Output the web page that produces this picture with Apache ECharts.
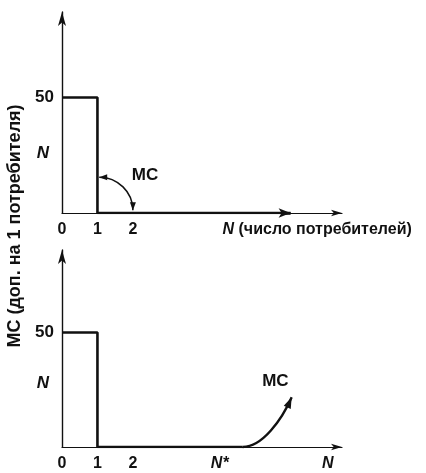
<!DOCTYPE html>
<html>
<head>
<meta charset="utf-8">
<script src="https://cdn.jsdelivr.net/npm/echarts@6/dist/echarts.min.js"></script>
<style>
  html, body { margin: 0; padding: 0; background: #fff; }
  #chart { width: 426px; height: 473px; }
</style>
</head>
<body>
<div id="chart"></div>
<script>
// Step curve of marginal cost per extra consumer: 50 for the first one, then zero
const stepX = [0, 1, 1];
const stepY = [50, 50, 0];

// Top panel: flat zero-cost stretch (ends in an arrow), and the annotation arc
const topFlatEnd = 6.45;
const topArcFrom = [1.05, 15.5];
const topArcTo = [2, 1.2];
const topMcLabel = [2.34, 16.4];
const topTickValues = [0, 1, 2, 7.2];
const topTickLabels = ['0', '1', '2', '{i|N} (число потребителей)'];

// Bottom panel: flat stretch up to the congestion point, then MC rising
const bottomFlatEnd = 5.1;
const bottomMcEnd = [6.48, 21.7];
const bottomMcLabel = [6.02, 28.7];
const bottomTickValues = [0, 1, 2, 4.45, 7.5];
const bottomTickLabels = ['0', '1', '2', '{i|N*}', '{i|N}'];

// y-axis marks shared by both panels
const yTickValuesTop = [26, 50];
const yTickValuesBottom = [28, 50];

const FONT = 'Liberation Sans';
const INK = '#111';

function pairs(xs, ys) { return xs.map((x, i) => [x, ys[i]]); }

function labelFrom(values, labels) {
  return function (v) {
    for (let i = 0; i < values.length; i++) {
      if (Math.abs(values[i] - v) < 1e-6) return labels[i];
    }
    return '';
  };
}

const richStyles = {
  i: { fontStyle: 'italic', fontWeight: 'bold', fontFamily: FONT, fontSize: 16, color: INK }
};

function xAxisFor(gridIndex, values, labels) {
  return {
    gridIndex: gridIndex, type: 'value', min: 0, max: 7.9,
    axisLine: { show: true, onZero: false, symbol: ['none', 'arrow'], symbolSize: [5, 11],
                lineStyle: { color: INK, width: 1.2 } },
    axisTick: { show: false }, splitLine: { show: false },
    axisLabel: {
      customValues: values, formatter: labelFrom(values, labels),
      margin: 9, color: INK, fontFamily: FONT, fontWeight: 'bold', fontSize: 16,
      rich: richStyles
    }
  };
}

function yAxisFor(gridIndex, max, values) {
  return {
    gridIndex: gridIndex, type: 'value', min: 0, max: max,
    axisLine: { show: true, onZero: false, symbol: ['none', 'arrow'], symbolSize: [6, 14],
                lineStyle: { color: INK, width: 1.4 } },
    axisTick: { show: false }, splitLine: { show: false },
    axisLabel: {
      customValues: values,
      formatter: labelFrom(values, ['{n|N}', '50']),
      margin: 8, color: INK, fontFamily: FONT, fontWeight: 'bold', fontSize: 17,
      rich: { n: { fontStyle: 'italic', fontWeight: 'bold', fontFamily: FONT, fontSize: 17,
                   color: INK, padding: [0, 5, 0, 0] } }
    }
  };
}

// Filled arrowhead whose tip sits at `tip`, pointing along `dir`
function arrowHead(tip, dir, len, half) {
  const n = Math.hypot(dir[0], dir[1]) || 1;
  const ux = dir[0] / n, uy = dir[1] / n;
  const bx = tip[0] - ux * len, by = tip[1] - uy * len;
  return {
    type: 'polygon',
    shape: { points: [tip, [bx - uy * half, by + ux * half], [bx + uy * half, by - ux * half]] },
    style: { fill: INK }
  };
}

// Quarter arc: leaves the start horizontally, arrives at the end vertically,
// with arrowheads at both ends
function renderArc(params, api) {
  const a = api.coord([api.value(0), api.value(1)]);
  const b = api.coord([api.value(2), api.value(3)]);
  const k = 0.55;
  const c1 = [a[0] + k * (b[0] - a[0]), a[1]];
  const c2 = [b[0], b[1] - k * (b[1] - a[1])];
  return {
    type: 'group',
    children: [
      { type: 'bezierCurve',
        shape: { x1: a[0], y1: a[1], x2: b[0], y2: b[1],
                 cpx1: c1[0], cpy1: c1[1], cpx2: c2[0], cpy2: c2[1] },
        style: { stroke: INK, lineWidth: 1.5, fill: null } },
      arrowHead(a, [a[0] - c1[0], 0], 8, 3),
      arrowHead(b, [0, b[1] - c2[1]], 8, 3)
    ]
  };
}

// Rising MC: leaves the axis tangentially, then climbs to an arrow
function renderRise(params, api) {
  const a = api.coord([api.value(0), api.value(1)]);
  const b = api.coord([api.value(2), api.value(3)]);
  const c1 = [a[0] + 0.4 * (b[0] - a[0]), a[1]];
  const c2 = [a[0] + 0.8 * (b[0] - a[0]), a[1] + 0.55 * (b[1] - a[1])];
  return {
    type: 'group',
    children: [
      { type: 'bezierCurve',
        shape: { x1: a[0], y1: a[1], x2: b[0], y2: b[1],
                 cpx1: c1[0], cpy1: c1[1], cpx2: c2[0], cpy2: c2[1] },
        style: { stroke: INK, lineWidth: 2.4, fill: null } },
      arrowHead(b, [b[0] - c2[0], b[1] - c2[1]], 11, 3.8)
    ]
  };
}

// "MC" caption centred on a data position
function renderCaption(params, api) {
  const p = api.coord([api.value(0), api.value(1)]);
  return {
    type: 'text', x: p[0], y: p[1],
    style: { text: 'MC', fill: INK, font: 'bold 17px "Liberation Sans"',
             align: 'center', verticalAlign: 'middle' }
  };
}

const thick = { color: INK, width: 2.6 };

const option = {
  animation: false,
  backgroundColor: '#fff',
  grid: [
    { left: 62, top: 12, width: 280, height: 201 },
    { left: 62, top: 250, width: 280, height: 197 }
  ],
  xAxis: [
    xAxisFor(0, topTickValues, topTickLabels),
    xAxisFor(1, bottomTickValues, bottomTickLabels)
  ],
  yAxis: [
    yAxisFor(0, 87, yTickValuesTop),
    yAxisFor(1, 86, yTickValuesBottom)
  ],
  graphic: [{
    type: 'text', x: 15.5, y: 226, rotation: Math.PI / 2,
    style: {
      text: 'MC (доп. на 1 потребителя)', fill: INK,
      font: 'bold 18px "Liberation Sans"', align: 'center', verticalAlign: 'middle'
    }
  }],
  series: [
    {
      type: 'line', xAxisIndex: 0, yAxisIndex: 0, symbol: 'none',
      data: pairs(stepX.concat([topFlatEnd]), stepY.concat([0])), lineStyle: thick,
      markLine: {
        silent: true, label: { show: false },
        symbol: ['none', 'arrow'], symbolSize: [7, 12],
        lineStyle: { color: INK, width: 2.6, type: 'solid' },
        data: [[{ coord: [topFlatEnd - 0.2, 0] }, { coord: [topFlatEnd, 0] }]]
      }
    },
    {
      type: 'custom', coordinateSystem: 'cartesian2d', xAxisIndex: 0, yAxisIndex: 0,
      silent: true, clip: false, renderItem: renderArc,
      data: [[topArcFrom[0], topArcFrom[1], topArcTo[0], topArcTo[1]]]
    },
    {
      type: 'custom', coordinateSystem: 'cartesian2d', xAxisIndex: 0, yAxisIndex: 0,
      silent: true, clip: false, renderItem: renderCaption, data: [topMcLabel]
    },
    {
      type: 'line', xAxisIndex: 1, yAxisIndex: 1, symbol: 'none',
      data: pairs(stepX.concat([bottomFlatEnd]), stepY.concat([0])), lineStyle: thick
    },
    {
      type: 'custom', coordinateSystem: 'cartesian2d', xAxisIndex: 1, yAxisIndex: 1,
      silent: true, clip: false, renderItem: renderRise,
      data: [[bottomFlatEnd, 0, bottomMcEnd[0], bottomMcEnd[1]]]
    },
    {
      type: 'custom', coordinateSystem: 'cartesian2d', xAxisIndex: 1, yAxisIndex: 1,
      silent: true, clip: false, renderItem: renderCaption, data: [bottomMcLabel]
    }
  ]
};

echarts.init(document.getElementById('chart')).setOption(option);
</script>
</body>
</html>
